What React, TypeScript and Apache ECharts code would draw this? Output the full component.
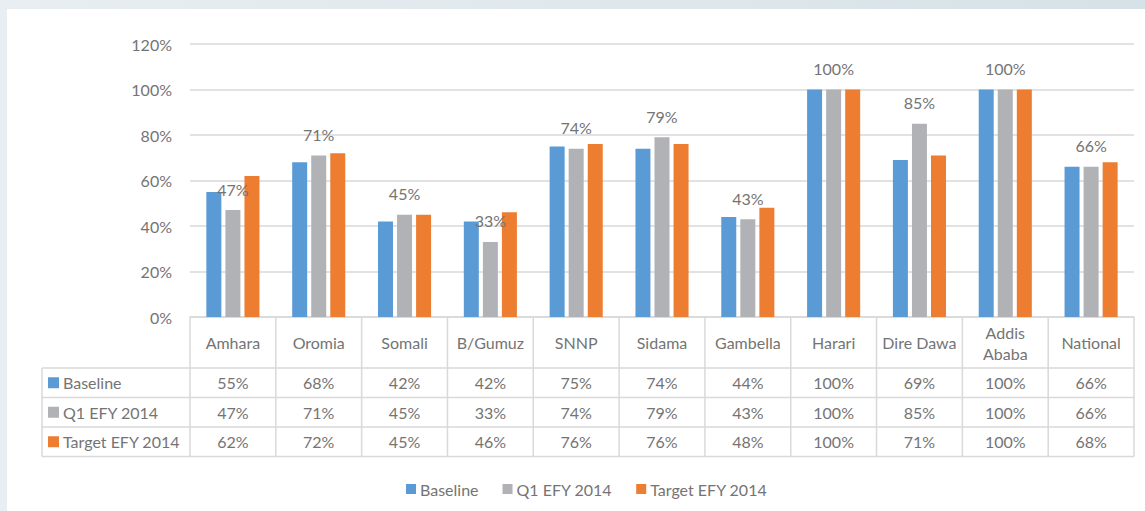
import React, { useEffect, useRef } from "react";
import * as echarts from "echarts";

const categories = ["Amhara", "Oromia", "Somali", "B/Gumuz", "SNNP", "Sidama", "Gambella", "Harari", "Dire Dawa", "Addis\nAbaba", "National"];
const seriesNames = ["Baseline", "Q1 EFY 2014", "Target EFY 2014"];
const baseline = [55, 68, 42, 42, 75, 74, 44, 100, 69, 100, 66];
const q1 = [47, 71, 45, 33, 74, 79, 43, 100, 85, 100, 66];
const target = [62, 72, 45, 46, 76, 76, 48, 100, 71, 100, 68];
const seriesData = [baseline, q1, target];
const colors = ["#5B9BD5", "#B1B2B6", "#ED7D31"];
const yMin = 0;
const yMax = 120;
const yStep = 20;

const W = 1145;
const H = 511;
const FONT = "Lato, 'Liberation Sans', sans-serif";
const TXT = "#747474";
const LINE = "#D9D9D9";

// layout
const plotL = 190;
const plotR = 1134;
const plotT = 44;
const plotB = 317;
const headerB = 368;
const rowH = 29.5;
const tableL = 42;

export default function App() {
  const ref = useRef<HTMLDivElement>(null);
  useEffect(() => {
    if (!ref.current) return;
    const chart = echarts.init(ref.current, undefined, { renderer: "svg" });
    const n = categories.length;
    const colW = (plotR - plotL) / n;
    const tableB = headerB + rowH * seriesNames.length;

    const graphics: any[] = [];
    for (let r = 0; r <= seriesNames.length; r++) {
      const y = headerB + r * rowH;
      graphics.push({ type: "line", silent: true, shape: { x1: tableL, y1: y, x2: plotR, y2: y }, style: { stroke: LINE, lineWidth: 1.5 } });
    }
    graphics.push({ type: "line", silent: true, shape: { x1: tableL, y1: headerB, x2: tableL, y2: tableB }, style: { stroke: LINE, lineWidth: 1.5 } });
    for (let i = 0; i <= n; i++) {
      const x = plotL + i * colW;
      graphics.push({ type: "line", silent: true, shape: { x1: x, y1: plotB, x2: x, y2: tableB }, style: { stroke: LINE, lineWidth: 1.5 } });
    }
    seriesNames.forEach((name, r) => {
      const cy = headerB + r * rowH + rowH / 2;
      graphics.push({ type: "rect", silent: true, shape: { x: 48, y: cy - 5.5, width: 11, height: 11 }, style: { fill: colors[r] } });
      graphics.push({ type: "text", silent: true, x: 63, y: cy, style: { text: name, fill: TXT, font: `16px ${FONT}`, verticalAlign: "middle", align: "left" } });
    });

    const valueAxes = seriesData.map((arr, r) => ({
      type: "category",
      gridIndex: 0,
      position: "bottom",
      offset: headerB - plotB + r * rowH,
      data: arr.map((v) => `${v}%`),
      axisLine: { show: false },
      axisTick: { show: false },
      splitLine: { show: false },
      axisLabel: { interval: 0, margin: rowH / 2, verticalAlign: "middle", fontSize: 16, color: TXT, fontFamily: FONT },
    }));

    chart.setOption({
      animation: false,
      backgroundColor: "transparent",
      textStyle: { fontFamily: FONT },
      grid: { left: plotL, right: W - plotR, top: plotT, bottom: H - plotB, containLabel: false },
      legend: {
        data: seriesNames,
        left: 401,
        top: 476,
        icon: "rect",
        itemWidth: 10,
        itemHeight: 10,
        itemGap: 24,
        textStyle: { fontSize: 16, color: TXT, fontFamily: FONT, padding: [0, 0, 0, -1] },
      },
      xAxis: [
        {
          type: "category",
          data: categories,
          axisLine: { lineStyle: { color: LINE, width: 1.5 } },
          axisTick: { show: false },
          axisLabel: { interval: 0, margin: (headerB - plotB) / 2, verticalAlign: "middle", fontSize: 16, color: TXT, fontFamily: FONT, lineHeight: 21 },
        },
        ...valueAxes,
      ],
      yAxis: {
        type: "value",
        min: yMin,
        max: yMax,
        interval: yStep,
        axisLine: { show: false },
        axisTick: { show: false },
        splitLine: { lineStyle: { color: LINE, width: 1.5 } },
        axisLabel: { formatter: (v: number) => `${v}%`, fontSize: 16, color: TXT, fontFamily: FONT, margin: 18 },
      },
      series: seriesNames.map((name, i) => ({
        name,
        type: "bar",
        xAxisIndex: 0,
        data: seriesData[i],
        barWidth: 15,
        barGap: "27%",
        itemStyle: { color: colors[i] },
        label:
          i === 1
            ? { show: true, position: "top", distance: 13, formatter: "{c}%", fontSize: 16, color: TXT, fontFamily: FONT }
            : { show: false },
      })),
      graphic: graphics,
    });
    return () => chart.dispose();
  }, []);

  return (
    <div
      ref={ref}
      style={{
        position: "fixed",
        left: 0,
        top: 0,
        width: W,
        height: H,
        background:
          "linear-gradient(#ffffff, #ffffff) 7px 9px / calc(100% - 7px) calc(100% - 9px) no-repeat, linear-gradient(90deg, #E8EEF1, #D6E2E8)",
      }}
    />
  );
}
